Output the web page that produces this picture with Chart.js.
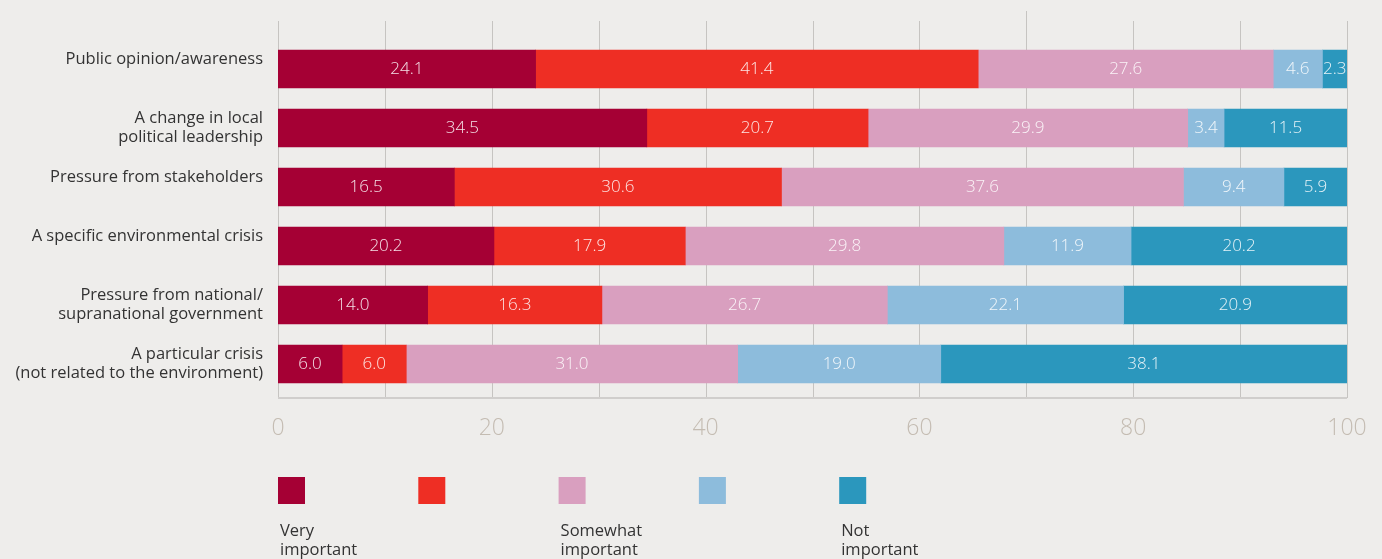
<!DOCTYPE html>
<html>
<head>
<meta charset="utf-8">
<script src="https://cdn.jsdelivr.net/npm/chart.js@4.4.1/dist/chart.umd.min.js"></script>
<style>
  html, body { margin: 0; padding: 0; background: #eeedeb; }
  #wrap { width: 1382px; height: 559px; position: relative; }
</style>
</head>
<body>
<div id="wrap"><canvas id="chart"></canvas></div>
<script>
// categories (second empty line keeps single-line labels at the same offset as two-line ones)
const categories = [
  ['Public opinion/awareness', ''],
  ['A change in local', 'political leadership'],
  ['Pressure from stakeholders', ''],
  ['A specific environmental crisis', ''],
  ['Pressure from national/', 'supranational government'],
  ['A particular crisis', '(not related to the environment)']
];
const seriesNames = ['Very important', '', 'Somewhat important', '', 'Not important'];
const veryImportant = [24.1, 34.5, 16.5, 20.2, 14.0, 6.0];
const important = [41.4, 20.7, 30.6, 17.9, 16.3, 6.0];
const somewhatImportant = [27.6, 29.9, 37.6, 29.8, 26.7, 31.0];
const notVeryImportant = [4.6, 3.4, 9.4, 11.9, 22.1, 19.0];
const notImportant = [2.3, 11.5, 5.9, 20.2, 20.9, 38.1];
const gridValues = [0, 10, 20, 30, 40, 50, 60, 70, 80, 90, 100];

const colors = ['#a50034', '#ee2e24', '#d99fbf', '#8dbcdc', '#2b97bd'];
const FONT = "'Open Sans', 'Noto Sans', sans-serif";

const series = [veryImportant, important, somewhatImportant, notVeryImportant, notImportant];

// vertical grid + baseline, drawn under the bars and a bit above the first row
const gridPlugin = {
  id: 'gridLines',
  beforeDatasetsDraw(chart) {
    const { ctx, chartArea, scales } = chart;
    ctx.save();
    ctx.strokeStyle = '#c6c4c1';
    ctx.lineWidth = 1;
    gridValues.forEach(v => {
      const x = Math.round(scales.x.getPixelForValue(v)) + 0.5;
      const top = v === 70 ? chartArea.top - 28.5 : chartArea.top - 18.5;
      ctx.beginPath();
      ctx.moveTo(x, top);
      ctx.lineTo(x, chartArea.bottom + 4.5);
      ctx.stroke();
    });
    ctx.strokeStyle = '#d0cecc';
    ctx.lineWidth = 2;
    ctx.beginPath();
    ctx.moveTo(scales.x.getPixelForValue(0), chartArea.bottom + 4.5);
    ctx.lineTo(scales.x.getPixelForValue(100), chartArea.bottom + 4.5);
    ctx.stroke();
    ctx.restore();
  }
};

// value labels centred in each segment
const valuePlugin = {
  id: 'valueLabels',
  afterDatasetsDraw(chart) {
    const { ctx } = chart;
    ctx.save();
    ctx.font = `300 17px ${FONT}`;
    ctx.fillStyle = 'rgba(255,255,255,0.88)';
    ctx.textAlign = 'center';
    ctx.textBaseline = 'middle';
    chart.data.datasets.forEach((ds, i) => {
      const meta = chart.getDatasetMeta(i);
      meta.data.forEach((el, j) => {
        const right = Math.min(el.x, chart.chartArea.right);
        const cx = (right + el.base) / 2;
        ctx.fillText(ds.data[j].toFixed(1), cx, el.y);
      });
    });
    ctx.restore();
  }
};

// legend: swatches in a row, names underneath
const legendPlugin = {
  id: 'swatchLegend',
  afterDraw(chart) {
    const { ctx, chartArea } = chart;
    ctx.save();
    chart.data.datasets.forEach((ds, i) => {
      const x = chartArea.left + i * 140.3;
      ctx.fillStyle = ds.backgroundColor;
      ctx.fillRect(x, 477, 27, 27);
      if (ds.label) {
        ctx.fillStyle = '#333333';
        ctx.font = `16.5px ${FONT}`;
        ctx.textAlign = 'left';
        ctx.textBaseline = 'middle';
        const words = ds.label.split(' ');
        ctx.fillText(words[0], x + 2, 531);
        ctx.fillText(words.slice(1).join(' '), x + 2, 550);
      }
    });
    ctx.restore();
  }
};

new Chart(document.getElementById('chart'), {
  type: 'bar',
  data: {
    labels: categories,
    datasets: series.map((values, i) => ({
      label: seriesNames[i],
      data: values,
      backgroundColor: colors[i],
      borderWidth: 0,
      barThickness: 38
    }))
  },
  options: {
    indexAxis: 'y',
    responsive: true,
    maintainAspectRatio: false,
    animation: false,
    layout: { padding: { left: 0, right: 35, top: 39.5, bottom: 0 } },
    plugins: {
      legend: { display: false },
      tooltip: { enabled: false }
    },
    scales: {
      x: {
        stacked: true,
        min: 0,
        max: 100,
        grid: { display: false },
        border: { display: false },
        ticks: {
          stepSize: 20,
          padding: 13,
          color: '#c4bcb2',
          font: { family: FONT, size: 23, weight: '300' },
          maxRotation: 0
        },
        afterFit(scale) {
          scale.height = 165.5;
          scale.paddingLeft = 0;
          scale.paddingRight = 0;
        }
      },
      y: {
        stacked: true,
        grid: { display: false },
        border: { display: false },
        ticks: {
          padding: 7,
          color: '#333333',
          font: { family: FONT, size: 16.5, lineHeight: 1.15 }
        },
        afterFit(scale) { scale.width = 278; }
      }
    }
  },
  plugins: [gridPlugin, valuePlugin, legendPlugin]
});
</script>
</body>
</html>
